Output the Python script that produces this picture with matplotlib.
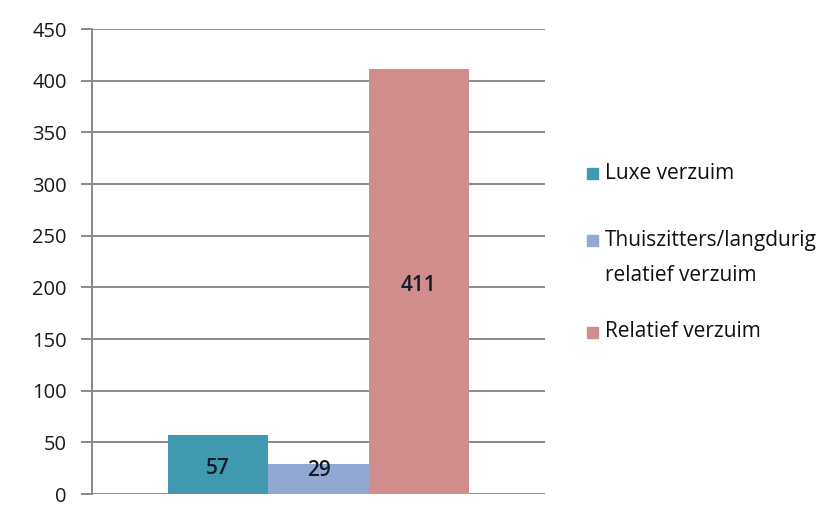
import numpy as np
import matplotlib.pyplot as plt
from matplotlib.patches import Rectangle

plt.rcParams['font.family'] = ['Open Sans', 'DejaVu Sans']

series = ['Luxe verzuim', 'Thuiszitters/langdurig\nrelatief verzuim', 'Relatief verzuim']
values = [57, 29, 411]
colors = ['#4199AF', '#93A7D3', '#D18C8C']
yticks = [0, 50, 100, 150, 200, 250, 300, 350, 400, 450]

fig = plt.figure(figsize=(8.36, 5.07), dpi=100)
ax = fig.add_axes([0.110, 0.0256, 0.542, 0.9172])

w = 0.2215
offsets = (np.arange(len(values)) - 1) * w
for x, v, c in zip(offsets, values, colors):
    ax.bar(x, v, width=w, color=c, zorder=3)
    ax.text(x, max(v / 2 - 4, 23), str(v), ha='center', va='center',
            fontsize=15, color='#141a2a', fontweight='semibold', zorder=4)

ax.set_xlim(-0.5, 0.5)
ax.set_ylim(0, 450)
ax.set_yticks(yticks)
ax.set_xticks([])
ax.yaxis.grid(True, color='#8a8a8a', linewidth=1.4, zorder=0)
ax.tick_params(axis='y', length=8, width=1.4, color='#8a8a8a', labelsize=14.5,
               labelcolor='#1a1a1a', pad=10)
for s in ['top', 'right', 'bottom']:
    ax.spines[s].set_visible(False)
ax.spines['left'].set_color('#8a8a8a')
ax.spines['left'].set_linewidth(1.4)

# legend placed by hand (uneven spacing as in the original)
leg_y = [174, 241, 332]
for lab, c, yp in zip(series, colors, leg_y):
    fy = 1 - yp / 507
    fig.add_artist(Rectangle((587 / 836, fy - 5.5 / 507), 11 / 836, 11 / 507,
                             color=c, transform=fig.transFigure))
    fig.text(605 / 836, fy + 11 / 507, lab, ha='left', va='top', fontsize=15,
             linespacing=1.85, color='#111111')

fig.savefig('out.png', dpi=100)
